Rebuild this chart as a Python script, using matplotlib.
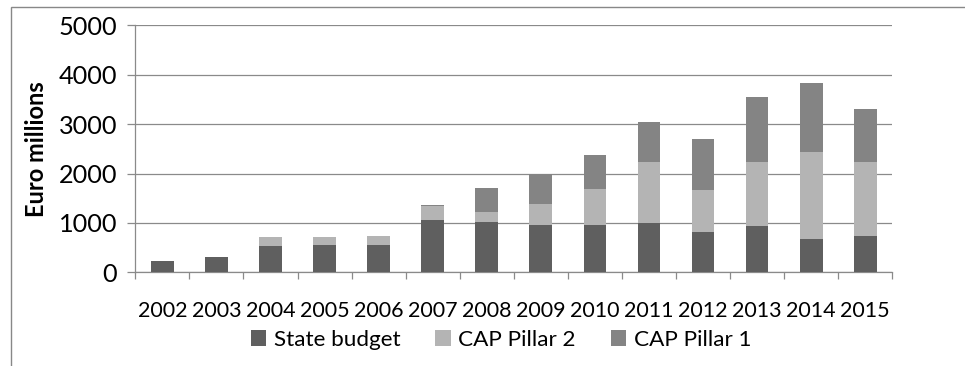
import matplotlib
matplotlib.use("Agg")
import matplotlib.pyplot as plt
from matplotlib.patches import Patch, Rectangle
import numpy as np

plt.rcParams['font.family'] = ['Lato', 'DejaVu Sans']

years = ["2002", "2003", "2004", "2005", "2006", "2007", "2008", "2009",
         "2010", "2011", "2012", "2013", "2014", "2015"]
state_budget = [235, 305, 535, 553, 553, 1060, 1020, 960, 960, 1000, 815, 940, 675, 735]
cap_pillar2 = [0, 12, 180, 160, 180, 280, 200, 425, 730, 1230, 850, 1290, 1760, 1500]
cap_pillar1 = [0, 0, 0, 0, 0, 20, 490, 615, 690, 810, 1030, 1320, 1400, 1070]
series_names = ["State budget", "CAP Pillar 2", "CAP Pillar 1"]
colors = ["#5f5f5f", "#b4b4b4", "#848484"]
yticks = [0, 1000, 2000, 3000, 4000, 5000]

W, H = 965, 366
fig = plt.figure(figsize=(W / 100, H / 100), dpi=100)

# plot area in pixel coordinates
x0, x1 = 135.3, 892.3
y0, y1 = 25.3, 272.3
ax = fig.add_axes([x0 / W, 1 - y1 / H, (x1 - x0) / W, (y1 - y0) / H])

# outer chart frame (extends past the right and bottom edges)
fig.patches.append(Rectangle((11 / W, -0.2), 1.2, 1 - 7.3 / H + 0.2,
                             transform=fig.transFigure, fill=False,
                             edgecolor="#888888", linewidth=1.0))

x = np.arange(len(years))
bw = 0.42
s = np.array(state_budget)
p2 = np.array(cap_pillar2)
p1 = np.array(cap_pillar1)
ax.bar(x, s, bw, color=colors[0], zorder=3)
ax.bar(x, p2, bw, bottom=s, color=colors[1], zorder=3)
ax.bar(x, p1, bw, bottom=s + p2, color=colors[2], zorder=3)

ax.set_xlim(-0.5, len(years) - 0.5)
ax.set_ylim(0, 5000)
ax.set_yticks(yticks)
ax.set_yticklabels([str(v) for v in yticks], fontsize=18.2)
ax.yaxis.grid(True, color="#8a8a8a", linewidth=0.9, zorder=0)
ax.set_axisbelow(True)

# category boundary ticks, labels centred between them
ax.set_xticks(np.arange(len(years) + 1) - 0.5)
ax.set_xticklabels([])
ax.set_xticks(x, minor=True)
ax.set_xticklabels(years, minor=True, fontsize=15.5)
ax.tick_params(axis="x", which="major", direction="out", length=5, width=0.9,
               color="#8a8a8a")
ax.tick_params(axis="x", which="minor", length=0, pad=20.5)
ax.tick_params(axis="y", direction="out", length=6, width=0.9,
               color="#8a8a8a", pad=7)

for side in ("top", "right"):
    ax.spines[side].set_visible(False)
for side in ("left", "bottom"):
    ax.spines[side].set_color("#8a8a8a")
    ax.spines[side].set_linewidth(0.9)

fig.text(36 / W, 1 - 149 / H, "Euro millions", rotation=90, fontsize=17,
         fontweight="bold", ha="center", va="center")

handles = [Patch(facecolor=c, edgecolor="none") for c in colors]
fig.legend(handles, series_names, loc="center", ncol=3,
           bbox_to_anchor=(501 / W, 1 - 340 / H), frameon=False, fontsize=16.2,
           handlelength=0.68, handleheight=0.68, handletextpad=0.35,
           columnspacing=1.55, borderpad=0, borderaxespad=0)

fig.savefig("out.png", dpi=100)
